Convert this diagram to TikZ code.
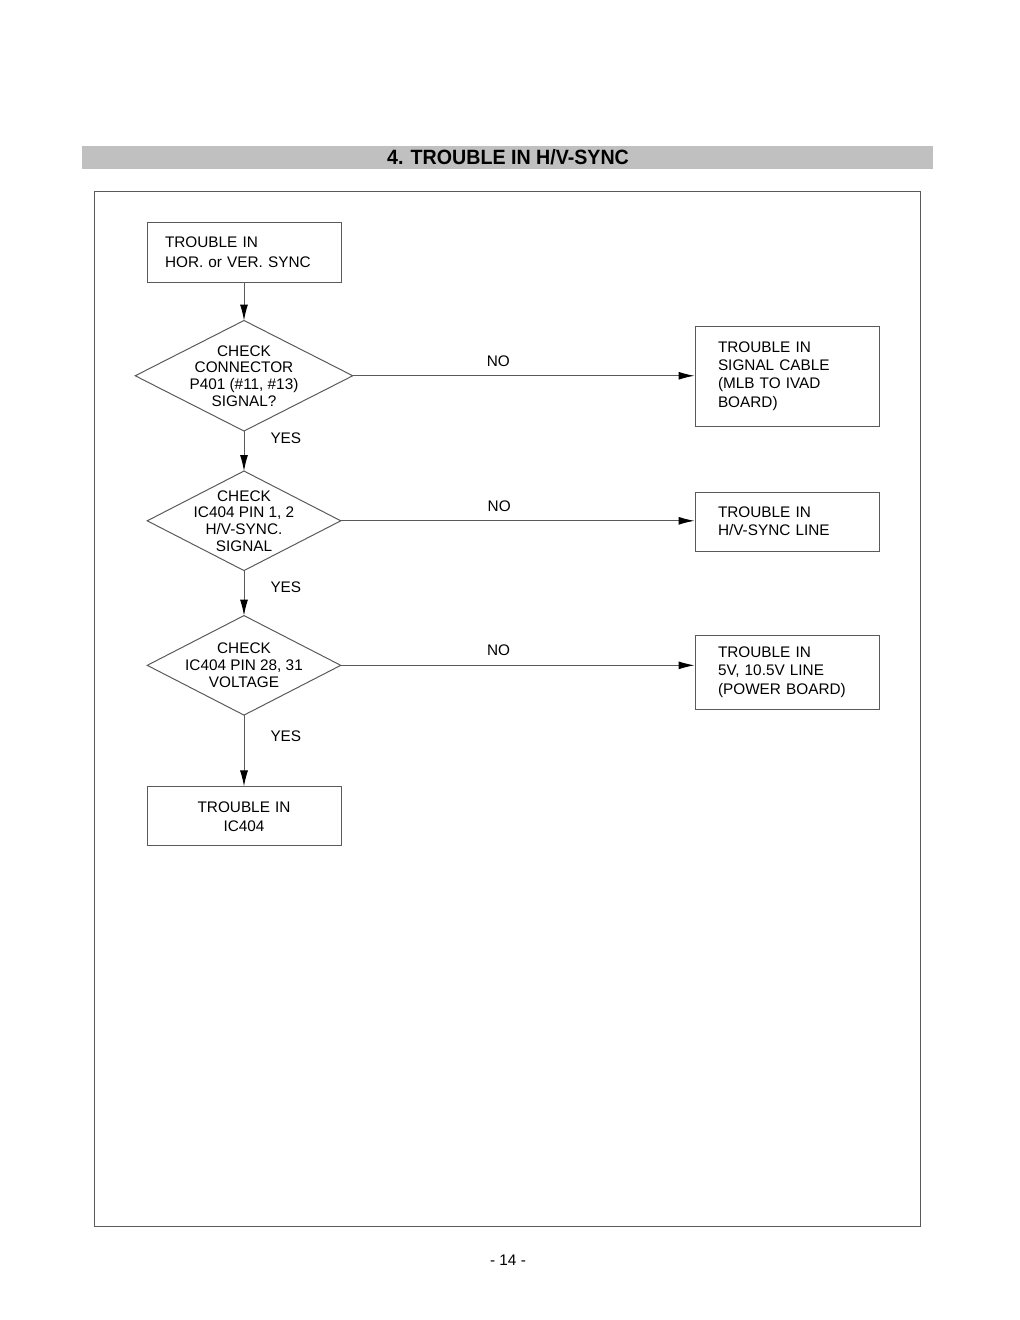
\documentclass[tikz,border=0pt]{standalone}
\usepackage{fontspec}
\setmainfont{Liberation Sans}
\usetikzlibrary{positioning,arrows.meta}
\definecolor{linegray}{RGB}{90,90,90}
\definecolor{bargray}{RGB}{192,192,192}
\tikzset{
  txt/.style={font=\fontsize{11.5}{13.7}\selectfont},
  box/.style={txt, draw=linegray, line width=0.75pt, inner ysep=0pt, align=left},
  startbox/.style={box, font=\fontsize{11.5}{15}\selectfont, text width=118.5pt, inner xsep=13.5pt, minimum height=45pt},
  outbox/.style={box, text width=103.5pt, inner xsep=17.25pt},
  endbox/.style={box, font=\fontsize{11.5}{14.3}\selectfont, align=center, text width=130pt, inner xsep=7.75pt, minimum height=44.25pt},
  decision/.style={font=\fontsize{11.5}{12.5}\selectfont, align=center, inner sep=0pt},
  arr/.style={draw=linegray, line width=0.75pt, -{Latex[length=12pt,width=6pt,color=black]}},
  yeslbl/.style={txt, anchor=west, inner sep=0pt, xshift=19.5pt},
  nolbl/.style={txt, inner sep=0pt, yshift=11.25pt}
}
\begin{document}
\begin{tikzpicture}[x=0.75pt, y=-0.75pt]
  \useasboundingbox (0,0) rectangle (1020,1320);
  % heading
  \fill[bargray] (82,146) rectangle (933,169);
  \node (title) at (508,157.5) {\scalebox{0.95}[1]{\fontsize{15.5}{18}\selectfont\bfseries 4. TROUBLE IN H/V-SYNC}};
  \draw[linegray, line width=0.75pt] (94,191) rectangle (920,1226);
  % main column
  \node[startbox] (start) at (244,252) {TROUBLE IN\\HOR. or VER. SYNC};
  \node[decision, minimum width=162.75pt, minimum height=82.5pt, below=28.5pt of start] (d1) {CHECK\\CONNECTOR\\P401 (\#11, \#13)\\SIGNAL?};
  \node[decision, minimum width=144.75pt, minimum height=74.25pt, below=30pt of d1] (d2) {CHECK\\IC404 PIN 1, 2\\H/V-SYNC.\\SIGNAL};
  \node[decision, minimum width=144.75pt, minimum height=74.25pt, below=33.75pt of d2] (d3) {CHECK\\IC404 PIN 28, 31\\VOLTAGE};
  \node[endbox, below=53.5pt of d3] (end) {TROUBLE IN\\IC404};
  % results
  \node[outbox, minimum height=75pt] (r1) at (787,376) {TROUBLE IN\\SIGNAL CABLE\\(MLB TO IVAD\\BOARD)};
  \node[outbox, minimum height=44.25pt] (r2) at (787,521.5) {TROUBLE IN\\H/V-SYNC LINE};
  \node[outbox, minimum height=55.5pt] (r3) at (787,672) {TROUBLE IN\\5V, 10.5V LINE\\(POWER BOARD)};
  % diamonds
  \foreach \d in {d1,d2,d3}
    \draw[linegray, line width=0.75pt] (\d.north) -- (\d.east) -- (\d.south) -- (\d.west) -- cycle;
  % connectors
  \draw[arr] (start) -- (d1);
  \draw[arr] (d1) -- node[yeslbl, pos=0.18] {YES} (d2);
  \draw[arr] (d2) -- node[yeslbl, pos=0.38] {YES} (d3);
  \draw[arr] (d3) -- node[yeslbl, pos=0.3] {YES} (end);
  \draw[arr] (d1.east) -- node[nolbl, pos=0.426] {NO} (d1.east -| r1.west);
  \draw[arr] (d2.east) -- node[nolbl, pos=0.448] {NO} (d2.east -| r2.west);
  \draw[arr] (d3.east) -- node[nolbl, pos=0.446] {NO} (d3.east -| r3.west);
  % page number
  \node[txt] (page) at (508,1260) {- 14 -};
\end{tikzpicture}
\end{document}
